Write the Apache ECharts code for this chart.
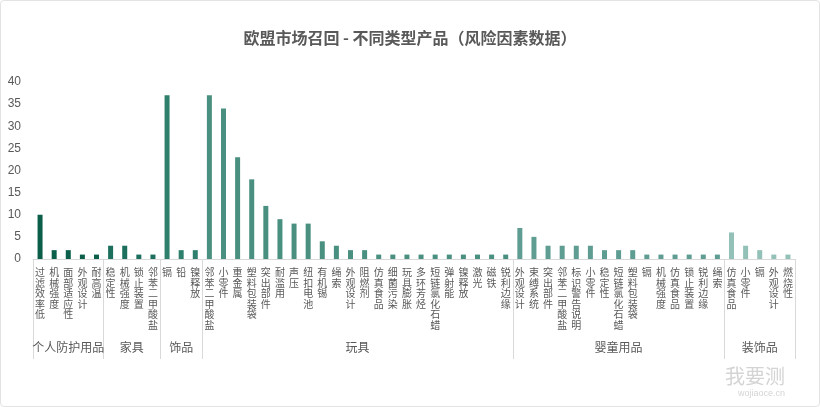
<!DOCTYPE html>
<html>
<head>
<meta charset="utf-8">
<script src="https://cdn.jsdelivr.net/npm/echarts@6/dist/echarts.min.js"></script>
<style>
  html, body { margin: 0; padding: 0; background: #fff; }
  #chart { width: 818px; height: 405px; border: 1px solid #e3e3e3; border-radius: 4px; }
</style>
</head>
<body>
<div id="chart"></div>
<script>
// 分组
const groupNames = ['个人防护用品', '家具', '饰品', '玩具', '婴童用品', '装饰品']
const groupColors = ['#0b5e4a', '#1c6f5c', '#2e7f6c', '#4a9080', '#5f9d93', '#93c1b7']

// 各组风险因素及召回数
const ppeItems = ['过滤效率低', '机械强度', '面部适应性', '外观设计', '耐高温']
const ppeValues = [10, 2, 2, 1, 1]

const furnitureItems = ['稳定性', '机械强度', '锁止装置', '邻苯二甲酸盐']
const furnitureValues = [3, 3, 1, 1]

const jewelryItems = ['镉', '铅', '镍释放']
const jewelryValues = [37, 2, 2]

const toyItems = ['邻苯二甲酸盐', '小零件', '重金属', '塑料包装袋', '突出部件', '耐滥用', '声压', '纽扣电池',
  '有机锡', '绳索', '外观设计', '阻燃剂', '仿真食品', '细菌污染', '玩具膨胀', '多环芳烃', '短链氯化石蜡',
  '弹射能', '镍释放', '激光', '磁铁', '锐利边缘']
const toyValues = [37, 34, 23, 18, 12, 9, 8, 8, 4, 3, 2, 2, 1, 1, 1, 1, 1, 1, 1, 1, 1, 1]

const babyItems = ['外观设计', '束缚系统', '突出部件', '邻苯二甲酸盐', '标识警告说明', '小零件', '稳定性',
  '短链氯化石蜡', '塑料包装袋', '镉', '机械强度', '仿真食品', '锁止装置', '锐利边缘', '绳索']
const babyValues = [7, 5, 3, 3, 3, 3, 2, 2, 2, 1, 1, 1, 1, 1, 1]

const decorItems = ['仿真食品', '小零件', '镉', '外观设计', '燃烧性']
const decorValues = [6, 3, 2, 1, 1]

const groupItems = [ppeItems, furnitureItems, jewelryItems, toyItems, babyItems, decorItems]
const groupValues = [ppeValues, furnitureValues, jewelryValues, toyValues, babyValues, decorValues]

// 展开成一条类目轴
let categories = []
let barData = []
let boundaries = [0]   // 半格为单位的分组边界
let centers = {}       // 半格为单位的分组中心 -> 组名
let pos = 0
groupItems.forEach((items, g) => {
  items.forEach((name, i) => {
    categories.push(name)
    barData.push({ value: groupValues[g][i], itemStyle: { color: groupColors[g] } })
  })
  centers[pos * 2 + items.length] = groupNames[g]
  pos += items.length
  boundaries.push(pos * 2)
})
const halfPoints = []
for (let i = 0; i <= pos * 2; i++) halfPoints.push(String(i))

const chart = echarts.init(document.getElementById('chart'))

const option = {
  animation: false,
  title: {
    text: '欧盟市场召回 - 不同类型产品（风险因素数据）',
    left: 'center',
    top: 24,
    textStyle: {
      fontFamily: 'Noto Sans CJK SC',
      fontSize: 16,
      fontWeight: 'bold',
      color: '#595959'
    }
  },
  grid: { left: 32, right: 24, top: 81, bottom: 147 },
  xAxis: [
    {
      type: 'category',
      data: categories,
      axisLine: { lineStyle: { color: '#d9d9d9' } },
      axisTick: { show: false },
      axisLabel: {
        interval: 0,
        margin: 8,
        color: '#595959',
        fontFamily: 'Noto Sans CJK SC',
        fontSize: 10,
        lineHeight: 10.5,
        formatter: (v) => v.split('').join('\n')
      }
    },
    {
      type: 'category',
      data: halfPoints,
      boundaryGap: false,
      position: 'bottom',
      axisLine: { show: false },
      axisTick: {
        show: true,
        length: 100,
        interval: (i) => boundaries.indexOf(i) >= 0,
        lineStyle: { color: '#d9d9d9' }
      },
      axisLabel: {
        interval: 0,
        margin: 82,
        color: '#595959',
        fontFamily: 'Noto Sans CJK SC',
        fontSize: 12,
        formatter: (v, i) => centers[i] || ''
      }
    }
  ],
  yAxis: {
    type: 'value',
    min: 0,
    max: 40,
    interval: 5,
    axisLine: { show: false },
    axisTick: { show: false },
    splitLine: { show: false },
    axisLabel: { color: '#595959', fontSize: 12, margin: 12 }
  },
  graphic: [
    {
      type: 'text',
      right: 34,
      bottom: 20,
      style: { text: '我要测', fontSize: 20, fill: '#d4d4d4', fontFamily: 'Noto Sans CJK SC' }
    },
    {
      type: 'text',
      right: 34,
      bottom: 8,
      style: { text: 'wojiaoce.cn', fontSize: 9, fill: '#d4d4d4' }
    }
  ],
  series: [
    {
      type: 'bar',
      xAxisIndex: 0,
      barWidth: 5,
      data: barData
    }
  ]
}

chart.setOption(option)
</script>
</body>
</html>
